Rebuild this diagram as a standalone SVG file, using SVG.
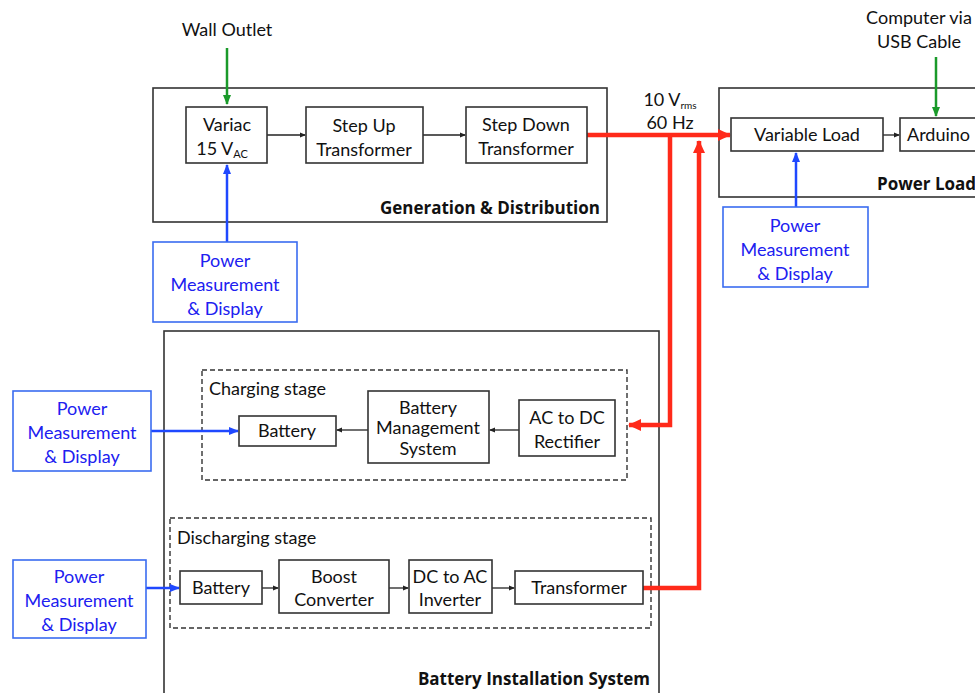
<svg xmlns="http://www.w3.org/2000/svg" width="975" height="693" viewBox="0 0 975 693">
  <defs>
    <style>
      text { font-family: Lato, "Open Sans", "Liberation Sans", sans-serif; font-size: 18px; fill: #111; }
      .c { text-anchor: middle; }
      .r { text-anchor: end; }
      .b { font-family: "Open Sans", Lato, "Liberation Sans", sans-serif; font-weight: bold; font-size: 17px; }
      .blue { fill: #2020f0; }
      .box { fill: #fff; stroke: #333; stroke-width: 1.6; }
      .group { fill: none; stroke: #333; stroke-width: 1.6; }
      .dash { fill: none; stroke: #333; stroke-width: 1.4; stroke-dasharray: 5 3; }
      .pbox { fill: #fff; stroke: #3a6cf0; stroke-width: 1.6; }
      .blk { fill: none; stroke: #222; stroke-width: 1.3; marker-end: url(#ah); }
      .bl { fill: none; stroke: #1f48ff; stroke-width: 2.5; marker-end: url(#ahb); }
      .gr { fill: none; stroke: #1a9a2a; stroke-width: 2.5; marker-end: url(#ahg); }
      .reda { fill: none; stroke: #ff2a1a; stroke-width: 4.5; marker-end: url(#ahr); }
    </style>
    <marker id="ah" markerWidth="6" markerHeight="6" refX="5" refY="3" orient="auto" markerUnits="userSpaceOnUse">
      <path d="M0,0.5 L6,3 L0,5.5 z" fill="#222"/>
    </marker>
    <marker id="ahb" markerWidth="10" markerHeight="10" refX="9" refY="5" orient="auto" markerUnits="userSpaceOnUse">
      <path d="M0,1 L10,5 L0,9 z" fill="#1f48ff"/>
    </marker>
    <marker id="ahg" markerWidth="10" markerHeight="10" refX="9" refY="5" orient="auto" markerUnits="userSpaceOnUse">
      <path d="M0,1 L10,5 L0,9 z" fill="#1a9a2a"/>
    </marker>
    <marker id="ahr" markerWidth="14" markerHeight="14" refX="12" refY="7" orient="auto" markerUnits="userSpaceOnUse">
      <path d="M0,1 L13,7 L0,13 z" fill="#ff2a1a"/>
    </marker>
  </defs>

  <rect width="975" height="693" fill="#fff"/>

  <!-- enclosing subsystem frames -->
  <g id="generation-distribution">
    <rect class="group" x="153" y="88" width="454" height="134"/>
    <text class="b r" x="600" y="214">Generation &amp; Distribution</text>
  </g>
  <g id="power-load">
    <rect class="group" x="719" y="88" width="300" height="109"/>
    <text class="b" x="877" y="190">Power Load</text>
  </g>
  <g id="battery-installation">
    <rect class="group" x="164" y="331" width="495" height="380"/>
    <text class="b r" x="650" y="685">Battery Installation System</text>
  </g>
  <g id="charging-stage">
    <rect class="dash" x="202" y="370" width="425" height="110"/>
    <text x="209" y="395" font-size="19">Charging stage</text>
  </g>
  <g id="discharging-stage">
    <rect class="dash" x="170" y="518" width="481" height="110"/>
    <text x="177" y="544" font-size="19">Discharging stage</text>
  </g>

  <!-- outside labels -->
  <g id="wall-outlet">
    <text class="c" x="227" y="36">Wall Outlet</text>
  </g>
  <g id="computer-usb">
    <text class="c" x="919" y="24">Computer via</text>
    <text class="c" x="919" y="48">USB Cable</text>
  </g>
  <g id="supply-label">
    <text class="c" x="670" y="106">10 V<tspan font-size="10" dy="3">rms</tspan></text>
    <text class="c" x="670" y="129">60 Hz</text>
  </g>

  <!-- connectors -->
  <g id="connectors">
    <path class="gr" d="M227,48 V104"/>
    <path class="gr" d="M936,57 V116"/>
    <path class="bl" d="M227,242 V165"/>
    <path class="bl" d="M796,207 V153"/>
    <path class="bl" d="M151,431 H238"/>
    <path class="bl" d="M146,588 H179"/>

    <path class="blk" d="M267,135 H305"/>
    <path class="blk" d="M423,135 H465"/>
    <path class="blk" d="M883,135 H899"/>
    <path class="blk" d="M368,430 H337"/>
    <path class="blk" d="M519,430 H490"/>
    <path class="blk" d="M262,588 H278"/>
    <path class="blk" d="M389,588 H408"/>
    <path class="blk" d="M492,588 H514"/>

    <path class="reda" d="M587,135 H730"/>
    <path class="reda" d="M670,135 V425 H629"/>
    <path class="reda" d="M643,588 H699 V141"/>
  </g>

  <!-- generation nodes -->
  <g id="variac">
    <rect class="box" x="186" y="107" width="81" height="56"/>
    <text class="c" x="227" y="131">Variac</text>
    <text class="c" x="222" y="155">15 V<tspan font-size="11" dy="3">AC</tspan></text>
  </g>
  <g id="step-up">
    <rect class="box" x="306" y="107" width="117" height="56"/>
    <text class="c" x="364" y="132">Step Up</text>
    <text class="c" x="364" y="156">Transformer</text>
  </g>
  <g id="step-down">
    <rect class="box" x="466" y="107" width="121" height="56"/>
    <text class="c" x="526" y="131">Step Down</text>
    <text class="c" x="526" y="155">Transformer</text>
  </g>
  <g id="power-meas-gen">
    <rect class="pbox" x="153" y="242" width="144" height="80"/>
    <text class="c blue" x="225" y="267">Power</text>
    <text class="c blue" x="225" y="291">Measurement</text>
    <text class="c blue" x="225" y="315">&amp; Display</text>
  </g>

  <!-- load nodes -->
  <g id="variable-load">
    <rect class="box" x="731" y="118" width="152" height="33"/>
    <text class="c" x="807" y="141">Variable Load</text>
  </g>
  <g id="arduino">
    <rect class="box" x="900" y="118" width="100" height="33"/>
    <text x="907" y="141">Arduino</text>
  </g>
  <g id="power-meas-load">
    <rect class="pbox" x="723" y="207" width="145" height="80"/>
    <text class="c blue" x="795" y="232">Power</text>
    <text class="c blue" x="795" y="256">Measurement</text>
    <text class="c blue" x="795" y="280">&amp; Display</text>
  </g>

  <!-- charging stage nodes -->
  <g id="battery-charge">
    <rect class="box" x="239" y="416" width="97" height="30"/>
    <text class="c" x="287" y="437">Battery</text>
  </g>
  <g id="bms">
    <rect class="box" x="368" y="391" width="121" height="72"/>
    <text class="c" x="428" y="414" font-size="15">Battery</text>
    <text class="c" x="428" y="434" font-size="15">Management</text>
    <text class="c" x="428" y="455" font-size="15">System</text>
  </g>
  <g id="rectifier">
    <rect class="box" x="519" y="400" width="96" height="56"/>
    <text class="c" x="567" y="424">AC to DC</text>
    <text class="c" x="567" y="448">Rectifier</text>
  </g>
  <g id="power-meas-charge">
    <rect class="pbox" x="13" y="391" width="138" height="80"/>
    <text class="c blue" x="82" y="415">Power</text>
    <text class="c blue" x="82" y="439">Measurement</text>
    <text class="c blue" x="82" y="463">&amp; Display</text>
  </g>

  <!-- discharging stage nodes -->
  <g id="battery-discharge">
    <rect class="box" x="180" y="571" width="82" height="33"/>
    <text class="c" x="221" y="594">Battery</text>
  </g>
  <g id="boost">
    <rect class="box" x="279" y="560" width="110" height="53"/>
    <text class="c" x="334" y="583">Boost</text>
    <text class="c" x="334" y="606">Converter</text>
  </g>
  <g id="inverter">
    <rect class="box" x="409" y="560" width="83" height="53"/>
    <text class="c" x="450" y="583">DC to AC</text>
    <text class="c" x="450" y="606">Inverter</text>
  </g>
  <g id="transformer">
    <rect class="box" x="515" y="571" width="128" height="33"/>
    <text class="c" x="579" y="594">Transformer</text>
  </g>
  <g id="power-meas-discharge">
    <rect class="pbox" x="13" y="560" width="133" height="78"/>
    <text class="c blue" x="79" y="583">Power</text>
    <text class="c blue" x="79" y="607">Measurement</text>
    <text class="c blue" x="79" y="631">&amp; Display</text>
  </g>
</svg>
